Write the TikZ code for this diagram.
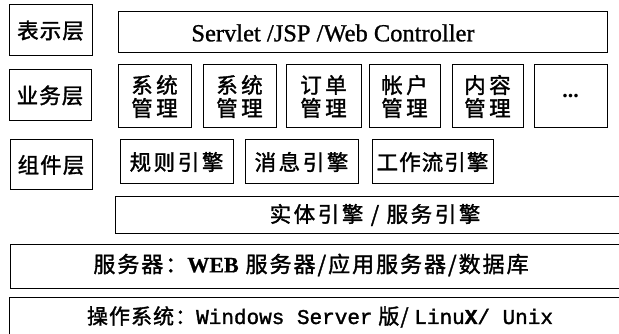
\documentclass[tikz,border=0pt]{standalone}
\usepackage{fontspec}
\setmainfont{Liberation Serif}
\newfontfamily\serifb[FakeBold=1]{Liberation Serif}
\newfontfamily\cjk[LetterSpace=5,FakeBold=1.5]{Noto Sans CJK SC}
\newfontfamily\cjks[LetterSpace=9,FakeBold=1.5]{Noto Sans CJK SC}
\newfontfamily\cjkw[LetterSpace=16,FakeBold=1.5]{Noto Sans CJK SC}
\newfontfamily\cjkc[LetterSpace=12,FakeBold=1.5]{Noto Sans CJK SC}
\newfontfamily\mono[FakeBold=1.5]{Liberation Mono}
\begin{document}
\begin{tikzpicture}[x=1pt,y=-1pt,
  box/.style={draw, line width=1pt, inner sep=0pt, rectangle},
  lbl/.style={inner sep=0pt, font=\cjk\fontsize{21.5}{24}\selectfont},
  comp/.style={inner sep=0pt, font=\cjkc\fontsize{21.5}{24}\selectfont},
  two/.style={inner sep=0pt, align=center, font=\cjkw\fontsize{21.5}{23}\selectfont}]
\useasboundingbox (0,0) rectangle (619,334);
\clip (0,0) rectangle (619,334);
% layer labels
\node[box, minimum width=83pt, minimum height=51pt] (l1) at (50.5,30.5) {};
\node[lbl] (t1) at (l1.center) {表示层};
\node[box, minimum width=82pt, minimum height=51pt] (l2) at (50,95.5) {};
\node[lbl] (t2) at (l2.center) {业务层};
\node[box, minimum width=82pt, minimum height=50pt] (l3) at (51,165) {};
\node[lbl] (t3) at (l3.center) {组件层};
% presentation
\node[box, minimum width=489pt, minimum height=41pt] (pres) at (362.5,32.5) {};
\node[inner sep=0pt, font=\serifb\fontsize{24.5}{27}\selectfont] (tp) at (333,33) {Servlet /JSP /Web Controller};
% business
\node[box, minimum width=73pt, minimum height=63pt] (b1) at (154.5,96.5) {};
\node[two] (tb1) at (b1.center) {系统\\管理};
\node[box, minimum width=73pt, minimum height=63pt] (b2) at (239.5,96.5) {};
\node[two] (tb2) at (b2.center) {系统\\管理};
\node[box, minimum width=75pt, minimum height=63pt] (b3) at (323.5,96.5) {};
\node[two] (tb3) at (b3.center) {订单\\管理};
\node[box, minimum width=71pt, minimum height=63pt] (b4) at (404.5,96.5) {};
\node[two] (tb4) at (b4.center) {帐户\\管理};
\node[box, minimum width=71pt, minimum height=63pt] (b5) at (487.5,96.5) {};
\node[two] (tb5) at (b5.center) {内容\\管理};
\node[box, minimum width=73pt, minimum height=63pt] (b6) at (570.5,96.5) {};
\node[inner sep=0pt, font=\bfseries\fontsize{22}{23}\selectfont] (tb6) at (b6.center) {...};
% components
\node[box, minimum width=113pt, minimum height=44pt] (c1) at (176.5,162) {};
\node[comp] (tc1) at (c1.center) {规则引擎};
\node[box, minimum width=113pt, minimum height=44pt] (c2) at (301.5,162) {};
\node[comp] (tc2) at (c2.center) {消息引擎};
\node[box, minimum width=121pt, minimum height=44pt] (c3) at (432.5,162) {};
\node[lbl] (tc3) at (c3.center) {工作流引擎};
% entity
\node[box, minimum width=515pt, minimum height=36pt] (ent) at (372.5,215) {};
\node[comp] (te) at (375,215) {实体引擎 / 服务引擎};
% server
\node[box, minimum width=620pt, minimum height=44pt] (srv) at (320,266) {};
\node[lbl, font=\cjks\fontsize{22}{24}\selectfont] (ts) at (311,265) {服务器：{\fontspec[FakeBold=0.5]{Liberation Serif}\bfseries WEB} 服务器/应用服务器/数据库};
% os
\node[box, minimum width=621pt, minimum height=48pt] (os) at (319.5,321) {};
\node[lbl, font=\cjk\fontsize{21}{24}\selectfont] (to) at (320,317) {操作系统：{\mono Windows Server} 版/ {\mono Linu\textbf{X}/ Unix}};
\end{tikzpicture}
\end{document}
